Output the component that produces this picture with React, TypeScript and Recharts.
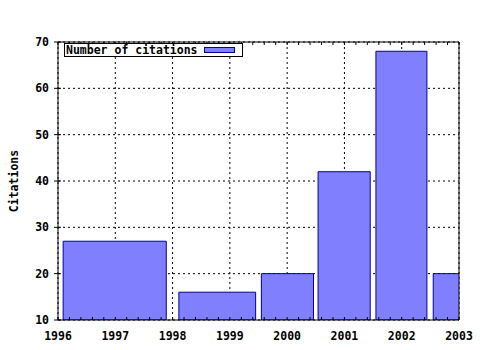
import React from 'react';
import {
  ComposedChart,
  XAxis,
  YAxis,
  CartesianGrid,
  ReferenceArea,
  Legend,
} from 'recharts';

// bars span [start, end] in years, heights in citations
const barStart = [1996.09, 1998.11, 1999.55, 2000.54, 2001.55, 2002.55];
const barEnd = [1997.89, 1999.45, 2000.46, 2001.45, 2002.44, 2003.45];
const citations = [27, 16, 20, 42, 68, 20];

const yearTicks = [1996, 1997, 1998, 1999, 2000, 2001, 2002, 2003];
const citationTicks = [10, 20, 30, 40, 50, 60, 70];
const seriesName = 'Number of citations';

const FONT = '"DejaVu Sans Mono", monospace';
const FONT_SIZE = 11.5;
const BAR_FILL = '#8080ff';
const BAR_STROKE = '#000099';

// small ticks every fifth of a year on top and bottom frame
const minorTicks: number[] = [];
for (let i = 0; i <= (2003 - 1996) * 5; i++) minorTicks.push(1996 + i / 5);

const data = citations.map((c, i) => ({ year: (barStart[i] + barEnd[i]) / 2, citations: c }));

const tickStyle = { fontFamily: FONT, fontSize: FONT_SIZE, fontWeight: 'bold', fill: '#000' };

const LegendBox = () => (
  <div
    style={{
      position: 'relative',
      border: '1px solid #000',
      background: '#fff',
      width: 177,
      height: 12,
      fontFamily: FONT,
      fontWeight: 'bold',
      fontSize: FONT_SIZE,
      lineHeight: '12px',
      color: '#000',
      boxSizing: 'content-box',
      whiteSpace: 'nowrap',
    }}
  >
    <span style={{ position: 'absolute', left: 1, top: 0 }}>{seriesName}</span>
    <span
      style={{
        position: 'absolute',
        left: 139,
        top: 3,
        width: 29,
        height: 4,
        background: BAR_FILL,
        border: `1px solid ${BAR_STROKE}`,
      }}
    />
  </div>
);

const YLabel = (props: any) => {
  const vb = props.viewBox || { x: 0, y: 0, width: 58, height: 278 };
  const cx = vb.x + 14;
  const cy = vb.y + vb.height / 2;
  return (
    <text
      x={cx}
      y={cy}
      transform={`rotate(-90 ${cx} ${cy})`}
      textAnchor="middle"
      dominantBaseline="central"
      style={{ fontFamily: FONT, fontSize: FONT_SIZE, fontWeight: 'bold', fill: '#000' }}
    >
      Citations
    </text>
  );
};

export default function App() {
  return (
    <div style={{ position: 'absolute', left: 0, top: 0, width: 480, height: 350, background: '#fff' }}>
      <ComposedChart
        width={480}
        height={350}
        data={data}
        margin={{ top: 42, right: 21, bottom: 0, left: 0 }}
      >
        <CartesianGrid
          xAxisId="x"
          yAxisId="y"
          stroke="#000"
          strokeDasharray="2 3"
          horizontalValues={citationTicks}
          verticalValues={yearTicks}
        />
        {citations.map((c, i) => (
          <ReferenceArea
            key={i}
            xAxisId="x"
            yAxisId="y"
            x1={barStart[i]}
            x2={barEnd[i]}
            y1={10}
            y2={c}
            fill={BAR_FILL}
            fillOpacity={1}
            stroke={BAR_STROKE}
            strokeWidth={1}
            ifOverflow="hidden"
          />
        ))}
        {/* bottom small ticks pointing into the plot */}
        <XAxis
          xAxisId="minor"
          dataKey="year"
          type="number"
          domain={[1996, 2003]}
          ticks={minorTicks}
          allowDataOverflow
          orientation="bottom"
          mirror
          height={1}
          tickSize={3}
          tickFormatter={() => ''}
          axisLine={{ stroke: '#000' }}
          tickLine={{ stroke: '#000' }}
          interval={0}
        />
        {/* labelled year axis */}
        <XAxis
          xAxisId="x"
          dataKey="year"
          type="number"
          domain={[1996, 2003]}
          ticks={yearTicks}
          allowDataOverflow
          height={30}
          tickSize={6}
          tickMargin={6}
          tickLine={false}
          axisLine={false}
          tick={tickStyle}
          interval={0}
        />
        {/* top frame with small ticks */}
        <XAxis
          xAxisId="top"
          dataKey="year"
          type="number"
          domain={[1996, 2003]}
          ticks={minorTicks}
          allowDataOverflow
          orientation="top"
          mirror
          height={1}
          tickSize={3}
          tickFormatter={() => ''}
          axisLine={{ stroke: '#000' }}
          tickLine={{ stroke: '#000' }}
          interval={0}
        />
        <YAxis
          yAxisId="y"
          type="number"
          domain={[10, 70]}
          ticks={citationTicks}
          allowDataOverflow
          width={58}
          tickSize={4}
          tickMargin={5}
          axisLine={{ stroke: '#000' }}
          tickLine={{ stroke: '#000' }}
          tick={tickStyle}
          interval={0}
          label={<YLabel />}
        />
        {/* inner half of the y ticks */}
        <YAxis
          yAxisId="yin"
          type="number"
          domain={[10, 70]}
          ticks={citationTicks}
          allowDataOverflow
          mirror
          width={1}
          tickSize={3}
          tickFormatter={() => ''}
          axisLine={false}
          tickLine={{ stroke: '#000' }}
          interval={0}
        />
        {/* right frame */}
        <YAxis
          yAxisId="right"
          type="number"
          domain={[10, 70]}
          orientation="right"
          mirror
          width={1}
          tick={false}
          tickLine={false}
          axisLine={{ stroke: '#000' }}
        />
        <Legend
          layout="horizontal"
          verticalAlign="middle"
          align="center"
          content={() => <LegendBox />}
          wrapperStyle={{ left: 64, top: 43, width: 'auto' }}
        />
      </ComposedChart>
    </div>
  );
}
